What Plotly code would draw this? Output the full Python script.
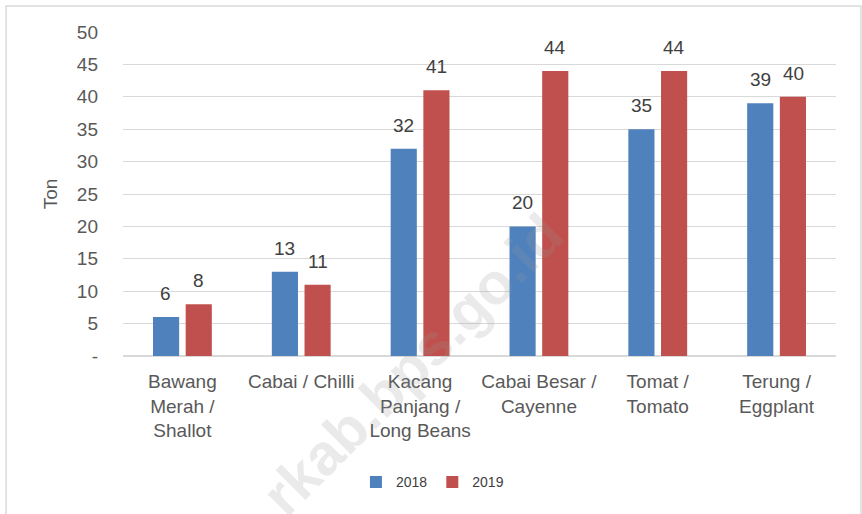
import plotly.graph_objects as go

# categories and production (ton)
categories = ["Bawang<br>Merah /<br>Shallot", "Cabai / Chilli", "Kacang<br>Panjang /<br>Long Beans",
              "Cabai Besar /<br>Cayenne", "Tomat /<br>Tomato", "Terung /<br>Eggplant"]
ton_2018 = [6, 13, 32, 20, 35, 39]
ton_2019 = [8, 11, 41, 44, 44, 40]
y_ticks = [0, 5, 10, 15, 20, 25, 30, 35, 40, 45, 50]
y_ticklabels = ["-", "5", "10", "15", "20", "25", "30", "35", "40", "45", "50"]

BLUE = "#4F81BD"
RED = "#C0504D"
FONT = "Liberation Sans"

fig = go.Figure()
fig.add_trace(go.Bar(x=categories, y=ton_2018, name="2018", marker_color=BLUE,
                     marker_line_width=0))
fig.add_trace(go.Bar(x=categories, y=ton_2019, name="2019", marker_color=RED,
                     marker_line_width=0))

# value labels above bars (offset to each bar in the group)
for vals, shift in [(ton_2018, -16.5), (ton_2019, 16.5)]:
    for c, v in zip(categories, vals):
        fig.add_annotation(x=c, y=v, text=str(v), showarrow=False, xshift=shift, yshift=11,
                           yanchor="bottom", font=dict(family=FONT, size=19, color="#404040"))

# faint watermark
fig.add_annotation(x=0.405, y=-0.026, xref="paper", yref="paper", text="<b>rkab.bps.go.id</b>",
                   showarrow=False, textangle=-45, xanchor="center", yanchor="middle",
                   font=dict(family=FONT, size=58, color="rgba(150,150,150,0.2)"))

# chart frame
fig.add_shape(type="rect", xref="paper", yref="paper", x0=-0.164, x1=1.035, y0=-0.6, y1=1.08,
              line=dict(color="#D9D9D9", width=1.5), layer="below")

fig.update_layout(
    width=862, height=514,
    margin=dict(l=123, r=26, t=32, b=157.5),
    paper_bgcolor="white", plot_bgcolor="white",
    barmode="group", bargap=0.45, bargroupgap=0.2,
    font=dict(family=FONT, size=19, color="#595959"),
    legend=dict(orientation="h", x=0.434, xanchor="center", y=-0.39, yanchor="middle",
                font=dict(size=14, color="#404040"), traceorder="normal",
                itemwidth=30),
    showlegend=True,
)
fig.update_xaxes(showgrid=False, showline=False, ticks="", tickangle=0, ticklabelstandoff=12)
fig.update_yaxes(range=[0, 50], tickvals=y_ticks, ticktext=y_ticklabels,
                 gridcolor="#D9D9D9", gridwidth=1, zeroline=True, zerolinecolor="#D9D9D9",
                 showline=False, ticks="", ticklabelstandoff=24,
                 title=dict(text="Ton", standoff=14, font=dict(size=19, color="#595959")))

fig.write_html("out.html", config={"displayModeBar": False},
               post_script="document.body.style.margin='0';")
